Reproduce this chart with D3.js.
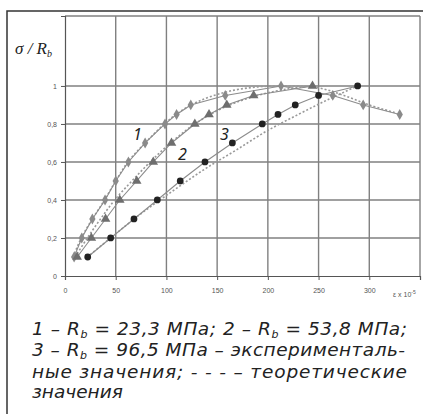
<!DOCTYPE html>
<html lang="ru">
<head>
<meta charset="UTF-8" />
<title>σ/Rb – ε</title>
<script src="https://d3js.org/d3.v7.min.js"></script>
<style>
body { margin: 0; padding: 0; background: #fff; }
svg { display: block; }
.tick text { font-family: Arial, "Liberation Sans", sans-serif; font-size: 7px; fill: #555; }
.cap { font-family: "DejaVu Sans", sans-serif; font-style: italic; font-size: 18.5px; fill: #222; }
</style>
</head>
<body>
<svg width="423" height="414"></svg>
<script>
// experimental points: strain (x 10^-5) and sigma / Rb
const strain1 = [9, 16.5, 27, 39.5, 50, 62.5, 79, 98.6, 110, 124, 158, 213, 264, 294, 330];
const ratio1  = [0.1, 0.2, 0.3, 0.4, 0.5, 0.6, 0.7, 0.8, 0.85, 0.9, 0.95, 1.0, 0.95, 0.9, 0.85];
const strain2 = [12, 26, 40, 54, 70.7, 87, 105, 128, 142, 159.5, 186, 244];
const ratio2  = [0.1, 0.2, 0.3, 0.4, 0.5, 0.6, 0.7, 0.8, 0.85, 0.9, 0.95, 1.0];
const strain3 = [22.4, 45, 68, 91, 113.6, 138, 165, 194.5, 210, 227, 250, 288.5];
const ratio3  = [0.1, 0.2, 0.3, 0.4, 0.5, 0.6, 0.7, 0.8, 0.85, 0.9, 0.95, 1.0];

// theoretical (dotted) curves
const theoStrain1 = [8, 16, 27, 39, 50, 62, 79, 98, 112, 132, 160, 190, 220, 250, 275, 300, 325];
const theoRatio1  = [0.1, 0.2, 0.3, 0.4, 0.5, 0.6, 0.7, 0.8, 0.86, 0.92, 0.97, 0.995, 1.0, 0.99, 0.95, 0.9, 0.86];
const theoStrain2 = [10, 22, 35, 49, 66, 84, 104, 128, 158, 190, 220, 244];
const theoRatio2  = [0.1, 0.2, 0.3, 0.4, 0.5, 0.6, 0.7, 0.8, 0.89, 0.95, 0.985, 1.0];
const theoStrain3 = [22, 45, 68, 91, 115, 140, 168, 198, 230, 260, 288.5];
const theoRatio3  = [0.1, 0.2, 0.3, 0.39, 0.48, 0.57, 0.66, 0.76, 0.85, 0.93, 1.0];

const xTicks = [0, 50, 100, 150, 200, 250, 300];
const yTicks = [0, 0.2, 0.4, 0.6, 0.8, 1];
const yTickLabels = ["0", "0,2", "0,4", "0,6", "0,8", "1"];

const svg = d3.select("svg");

// frame
svg.append("path")
  .attr("d", "M7,414 L7,11 L423,11")
  .attr("fill", "none")
  .attr("stroke", "#333")
  .attr("stroke-width", 1.5);

const x = d3.scaleLinear().domain([0, 350]).range([65, 420]);
const y = d3.scaleLinear().domain([0, 1.368]).range([276, 16]);

// grid
const grid = svg.append("g").attr("stroke", "#808080").attr("stroke-width", 1.4);
grid.selectAll(".gx")
  .data(xTicks.slice(1).concat([350]))
  .enter().append("line")
  .attr("x1", d => x(d)).attr("x2", d => x(d))
  .attr("y1", y(0)).attr("y2", y(1.368));
grid.selectAll(".gy")
  .data(yTicks.slice(1).concat([1.368]))
  .enter().append("line")
  .attr("x1", x(0)).attr("x2", x(350))
  .attr("y1", d => y(d)).attr("y2", d => y(d));

// axes
const xAxis = d3.axisBottom(x).tickValues(xTicks).tickSize(4).tickPadding(8);
const yAxis = d3.axisLeft(y).tickValues(yTicks).tickSize(4).tickPadding(4)
  .tickFormat((d, i) => yTickLabels[i]);

svg.append("g").attr("transform", `translate(0,${y(0)})`).call(xAxis)
  .call(g => g.select(".domain").attr("stroke", "#555").attr("stroke-width", 1.2))
  .call(g => g.selectAll(".tick line").attr("stroke", "#555"));
svg.append("g").attr("transform", `translate(${x(0)},0)`).call(yAxis)
  .call(g => g.select(".domain").attr("stroke", "#555").attr("stroke-width", 1.2))
  .call(g => g.selectAll(".tick line").attr("stroke", "#555"));

svg.append("text")
  .attr("x", 393).attr("y", 297)
  .attr("font-family", "Arial, sans-serif").attr("font-size", 7).attr("fill", "#555")
  .text("ε x 10")
  .append("tspan").attr("dy", -3).attr("font-size", 5).text("-5");

// axis title
const yt = svg.append("text")
  .attr("x", 15).attr("y", 54)
  .attr("font-family", "'Liberation Serif', serif").attr("font-style", "italic")
  .attr("font-size", 17).attr("fill", "#222");
yt.append("tspan").text("σ / R");
yt.append("tspan").attr("dy", 3).attr("font-size", 10).text("b");

const zip = (a, b) => a.map((v, i) => [v, b[i]]);

// theoretical lines
const theo = [[theoStrain1, theoRatio1], [theoStrain2, theoRatio2], [theoStrain3, theoRatio3]];
theo.forEach(t => {
  svg.append("path")
    .datum(zip(t[0], t[1]))
    .attr("d", d3.line().x(d => x(d[0])).y(d => y(d[1])).curve(d3.curveCatmullRom))
    .attr("fill", "none")
    .attr("stroke", "#999")
    .attr("stroke-width", 1.6)
    .attr("stroke-dasharray", "2,2");
});

const series = [
  { xs: strain1, ys: ratio1, color: "#8a8a8a", shape: d3.symbolDiamond, size: 34 },
  { xs: strain2, ys: ratio2, color: "#6e6e6e", shape: d3.symbolTriangle, size: 40 },
  { xs: strain3, ys: ratio3, color: "#222", shape: d3.symbolCircle, size: 36 },
];

series.forEach(s => {
  const pts = zip(s.xs, s.ys);
  svg.append("path")
    .datum(pts)
    .attr("d", d3.line().x(d => x(d[0])).y(d => y(d[1])))
    .attr("fill", "none")
    .attr("stroke", "#8c8c8c")
    .attr("stroke-width", 1.1);
  svg.append("g").selectAll("path")
    .data(pts)
    .enter().append("path")
    .attr("transform", d => `translate(${x(d[0])},${y(d[1])})`)
    .attr("d", d3.symbol().type(s.shape).size(s.size))
    .attr("fill", s.color);
});

// curve numbers
const curveLabels = [["1", 133, 140], ["2", 178, 160], ["3", 220, 140]];
svg.selectAll(".num")
  .data(curveLabels)
  .enter().append("text")
  .attr("x", d => d[1]).attr("y", d => d[2])
  .attr("font-family", "'Noto Sans', sans-serif").attr("font-style", "italic")
  .attr("font-size", 16).attr("fill", "#222")
  .text(d => d[0]);

// caption: strings are normal text, {low: ".."} is a subscript
function caption(parts, yPos, width) {
  const t = svg.append("text").attr("class", "cap").attr("x", 32).attr("y", yPos);
  let shifted = false;
  parts.forEach(p => {
    if (typeof p === "object") {
      t.append("tspan").attr("dy", 2.5).attr("font-size", 11).text(p.low);
      shifted = true;
    } else {
      const ts = t.append("tspan").text(p);
      if (shifted) { ts.attr("dy", -2.5); shifted = false; }
    }
  });
  if (width) t.attr("textLength", width).attr("lengthAdjust", "spacing");
}
caption(["1 – R", { low: "b" }, " = 23,3 МПа; 2 – R", { low: "b" }, " = 53,8 МПа;"], 335, 375);
caption(["3 – R", { low: "b" }, " = 96,5 МПа – эксперименталь-"], 356, 373);
caption(["ные значения; - - - – теоретические"], 378, 375);
caption(["значения"], 398);
</script>
</body>
</html>
